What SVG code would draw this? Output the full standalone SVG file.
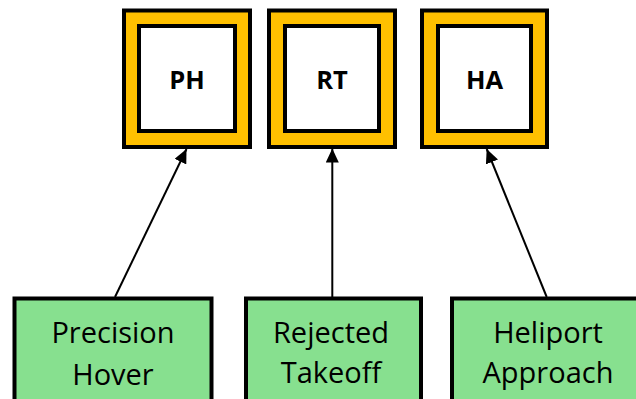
<svg xmlns="http://www.w3.org/2000/svg" width="636" height="399" viewBox="0 0 636 399">
  <style>
    .frame { fill: #FFC000; stroke: #000; stroke-width: 4; }
    .core { fill: #FFFFFF; stroke: #000; stroke-width: 4; }
    .code { font-family: "Open Sans", "Liberation Sans", sans-serif; font-weight: bold; font-size: 25.5px; fill: #000; text-anchor: middle; }
    .task { fill: #87E08F; stroke: #000; stroke-width: 4; }
    .name { font-family: "Open Sans", "Liberation Sans", sans-serif; font-size: 29px; fill: #000; text-anchor: middle; }
    .link { stroke: #000; stroke-width: 2; fill: none; marker-end: url(#head); }
  </style>
  <defs>
    <marker id="head" viewBox="0 0 14 13" refX="14" refY="6.5" markerWidth="14" markerHeight="13" markerUnits="userSpaceOnUse" orient="auto">
      <path d="M0,0 L14,6.5 L0,13 Z" fill="#000"/>
    </marker>
  </defs>

  <!-- manoeuvre codes -->
  <g id="ph">
    <rect class="frame" x="124" y="10.5" width="126" height="136.5"/>
    <rect class="core" x="139" y="26" width="96" height="105"/>
    <text class="code" x="187" y="89">PH</text>
  </g>
  <g id="rt">
    <rect class="frame" x="269" y="10.5" width="126" height="136.5"/>
    <rect class="core" x="285" y="26" width="94" height="105"/>
    <text class="code" x="332" y="89">RT</text>
  </g>
  <g id="ha">
    <rect class="frame" x="422" y="10.5" width="125" height="136.5"/>
    <rect class="core" x="438" y="26" width="93" height="105"/>
    <text class="code" x="484.5" y="89">HA</text>
  </g>

  <!-- manoeuvre names -->
  <g id="precision-hover">
    <rect class="task" x="14.5" y="298.5" width="197" height="120"/>
    <text class="name" x="113" y="343">Precision</text>
    <text class="name" x="113" y="385">Hover</text>
  </g>
  <g id="rejected-takeoff">
    <rect class="task" x="246" y="298.5" width="175" height="120"/>
    <text class="name" x="331" y="343">Rejected</text>
    <text class="name" x="331" y="383">Takeoff</text>
  </g>
  <g id="heliport-approach">
    <rect class="task" x="452" y="298.5" width="192" height="120"/>
    <text class="name" x="548" y="343">Heliport</text>
    <text class="name" x="548" y="383">Approach</text>
  </g>

  <!-- connectors -->
  <g id="connectors">
    <line class="link" x1="115" y1="297" x2="186.5" y2="149"/>
    <line class="link" x1="332.3" y1="297" x2="332.3" y2="148.5"/>
    <line class="link" x1="546.7" y1="297" x2="486.7" y2="149"/>
  </g>
</svg>
